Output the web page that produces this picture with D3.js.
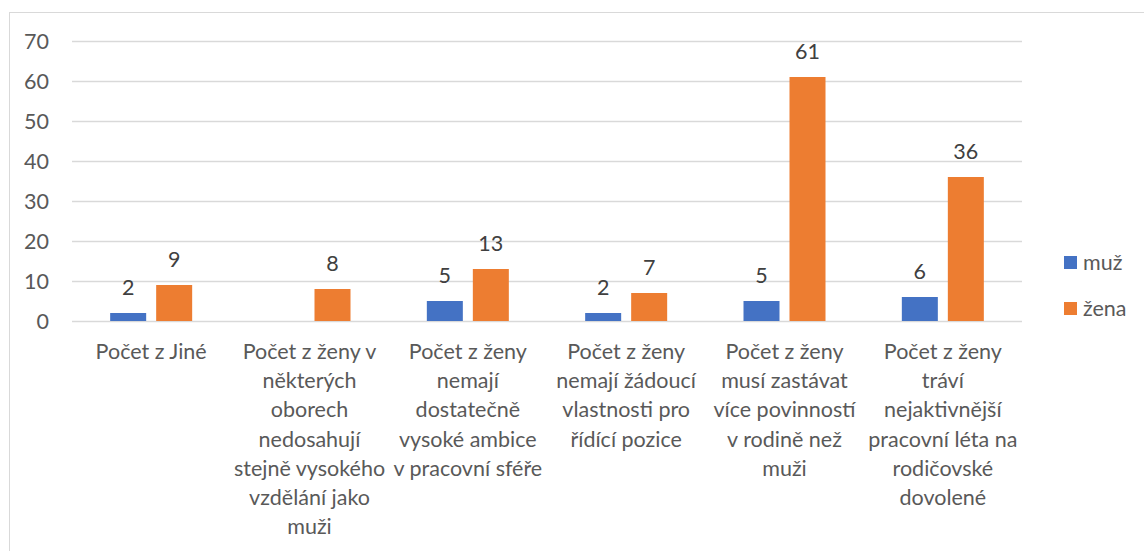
<!DOCTYPE html>
<html>
<head>
<meta charset="utf-8">
<script src="https://cdn.jsdelivr.net/npm/d3@7"></script>
<style>
  body { margin: 0; background: #fff; }
  text { font-family: Lato, "Open Sans", sans-serif; }
</style>
</head>
<body>
<svg width="1144" height="551"></svg>
<script>
// category labels, already broken into lines the way the chart wraps them
var categories = [
  ["Počet z Jiné"],
  ["Počet z ženy v", "některých", "oborech", "nedosahují", "stejně vysokého", "vzdělání jako", "muži"],
  ["Počet z ženy", "nemají", "dostatečně", "vysoké ambice", "v pracovní sféře"],
  ["Počet z ženy", "nemají žádoucí", "vlastnosti pro", "řídící pozice"],
  ["Počet z ženy", "musí zastávat", "více povinností", "v rodině než", "muži"],
  ["Počet z ženy", "tráví", "nejaktivnější", "pracovní léta na", "rodičovské", "dovolené"]
];
var muz  = [2, null, 5, 2, 5, 6];
var zena = [9, 8, 13, 7, 61, 36];
var seriesNames = ["muž", "žena"];
var yTicks = [0, 10, 20, 30, 40, 50, 60, 70];

var colors = ["#4472C4", "#ED7D31"];
var svg = d3.select("svg");

// chart frame
svg.append("rect")
  .attr("x", 9.5).attr("y", 12.5)
  .attr("width", 1200).attr("height", 600)
  .attr("fill", "none").attr("stroke", "#d9d9d9");

var plotLeft = 72, plotRight = 1022, plotTop = 41, plotBottom = 321;

var x = d3.scaleBand().domain(d3.range(categories.length)).range([plotLeft, plotRight]);
var y = d3.scaleLinear().domain([0, 70]).range([plotBottom, plotTop]);
var barW = 36, gap = 10;

// gridlines
svg.append("g").selectAll("line").data(yTicks).enter().append("line")
  .attr("x1", plotLeft).attr("x2", plotRight)
  .attr("y1", function(d){ return y(d) + 0.5; })
  .attr("y2", function(d){ return y(d) + 0.5; })
  .attr("stroke", "#d9d9d9").attr("stroke-width", 1.3);

// y tick labels
svg.append("g").selectAll("text").data(yTicks).enter().append("text")
  .attr("x", 49).attr("y", function(d){ return y(d); })
  .attr("dy", "0.35em")
  .attr("text-anchor", "end")
  .attr("font-size", 21.5)
  .attr("fill", "#595959")
  .text(function(d){ return d; });

var series = [muz, zena];
series.forEach(function(vals, s) {
  var offset = s === 0 ? -(gap / 2 + barW) : gap / 2;
  var g = svg.append("g");
  var pts = vals.map(function(v, i){ return {v: v, i: i}; })
    .filter(function(d){ return d.v !== null; });
  g.selectAll("rect").data(pts).enter().append("rect")
    .attr("x", function(d){ return x(d.i) + x.bandwidth() / 2 + offset; })
    .attr("y", function(d){ return y(d.v); })
    .attr("width", barW)
    .attr("height", function(d){ return y(0) - y(d.v); })
    .attr("fill", colors[s]);
  g.selectAll("text").data(pts).enter().append("text")
    .attr("x", function(d){ return x(d.i) + x.bandwidth() / 2 + offset + barW / 2; })
    .attr("y", function(d){ return y(d.v) - 18; })
    .attr("text-anchor", "middle")
    .attr("font-size", 21.5)
    .attr("fill", "#404040")
    .text(function(d){ return d.v; });
});

// category labels
var cat = svg.append("g").selectAll("text").data(categories).enter().append("text")
  .attr("text-anchor", "middle")
  .attr("font-size", 21.5)
  .attr("fill", "#595959");
cat.each(function(lines, i) {
  d3.select(this).selectAll("tspan").data(lines).enter().append("tspan")
    .attr("x", x(i) + x.bandwidth() / 2)
    .attr("y", function(d, k){ return 359 + k * 29.2; })
    .text(function(d){ return d; });
});

// legend
var leg = svg.append("g").selectAll("g").data(seriesNames).enter().append("g")
  .attr("transform", function(d, i){ return "translate(1064," + (256 + i * 46) + ")"; });
leg.append("rect").attr("width", 13).attr("height", 13)
  .attr("fill", function(d, i){ return colors[i]; });
leg.append("text").attr("x", 19).attr("y", 6.5).attr("dy", "0.35em")
  .attr("font-size", 21.5).attr("fill", "#595959")
  .text(function(d){ return d; });
</script>
</body>
</html>
